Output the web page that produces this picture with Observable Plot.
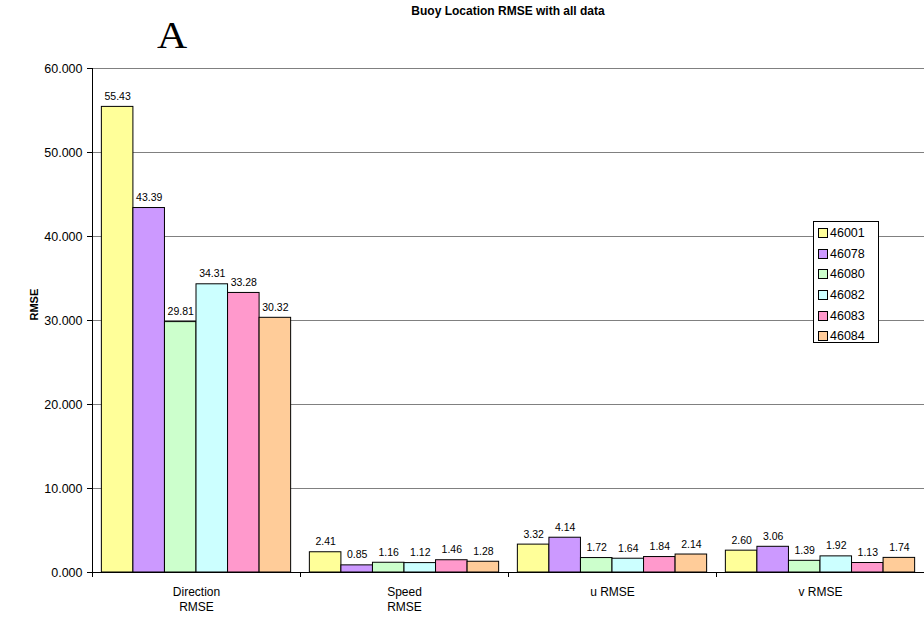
<!DOCTYPE html>
<html>
<head>
<meta charset="utf-8">
<script src="https://cdn.jsdelivr.net/npm/d3@7"></script>
<script src="https://cdn.jsdelivr.net/npm/@observablehq/plot@0.6"></script>
<style>
  body { margin: 0; background: #fff; font-family: Arial, "Liberation Sans", sans-serif; }
  #wrap { position: relative; width: 924px; height: 618px; }
  #title { position: absolute; left: 0; width: 1016px; top: 4px; text-align: center; font-weight: bold; font-size: 12px; }
  #letterA { position: absolute; left: 157px; top: 13px; font-family: "Liberation Serif", "DejaVu Serif", serif; font-size: 38px; line-height: 44px; transform: scaleX(1.1); transform-origin: left; }
  #legend { position: absolute; left: 813px; top: 221px; width: 66px; height: 122px; border: 1px solid #000; background: #fff; box-sizing: border-box; padding-top: 1px; }
  .li { height: 20.6px; display: flex; align-items: center; font-size: 12.5px; padding-left: 4px; }
  .sw { width: 8px; height: 8px; border: 1px solid #000; margin-right: 2px; }
</style>
</head>
<body>
<div id="wrap">
  <div id="chart"></div>
  <div id="title">Buoy Location RMSE with all data</div>
  <div id="letterA">A</div>
  <div id="legend"></div>
</div>
<script>
const categories = ["Direction RMSE", "Speed RMSE", "u RMSE", "v RMSE"];
const categoryLabels = ["Direction\nRMSE", "Speed\nRMSE", "u RMSE", "v RMSE"];
const buoys = ["46001", "46078", "46080", "46082", "46083", "46084"];
const colors = ["#FFFF99", "#CC99FF", "#CCFFCC", "#CCFFFF", "#FF99CC", "#FFCC99"];
const values46001 = [55.43, 2.41, 3.32, 2.60];
const values46078 = [43.39, 0.85, 4.14, 3.06];
const values46080 = [29.81, 1.16, 1.72, 1.39];
const values46082 = [34.31, 1.12, 1.64, 1.92];
const values46083 = [33.28, 1.46, 1.84, 1.13];
const values46084 = [30.32, 1.28, 2.14, 1.74];
const yTicks = [0, 10, 20, 30, 40, 50, 60];

const series = [values46001, values46078, values46080, values46082, values46083, values46084];
const pad = 0.045;
const w = (1 - 2 * pad) / buoys.length;
const rows = [];
categories.forEach((c, ci) => {
  buoys.forEach((b, bi) => {
    rows.push({cat: c, ci, buoy: b, bi, value: series[bi][ci]});
  });
});
const x1 = d => d.ci + pad + d.bi * w;
const x2 = d => d.ci + pad + (d.bi + 1) * w;
const xm = d => d.ci + pad + (d.bi + 0.5) * w;

const chart = Plot.plot({
  width: 924, height: 618,
  marginTop: 68, marginBottom: 46, marginLeft: 92, marginRight: 0,
  style: {fontFamily: "Arial, 'Liberation Sans', sans-serif", fontSize: "12px", color: "#000"},
  x: {domain: [0, categories.length], axis: null},
  y: {domain: [0, 60], axis: null},
  color: {domain: buoys, range: colors},
  marks: [
    Plot.ruleY(yTicks.filter(t => t > 0), {stroke: "#808080", strokeWidth: 1}),
    Plot.rect(rows, {x1, x2, y1: 0, y2: "value", fill: "buoy", stroke: "#000", strokeWidth: 1}),
    Plot.text(rows, {x: xm, y: "value", text: d => d.value.toFixed(2), lineAnchor: "bottom", dy: -7, fontSize: 10.5}),
    Plot.ruleX([0], {stroke: "#000"}),
    Plot.ruleY([0], {stroke: "#000"}),
    Plot.axisY({ticks: yTicks, tickFormat: d => d.toFixed(3), tickSize: 5, tickPadding: 5, label: null, fontSize: 12.5, stroke: "#000"}),
    Plot.axisX({ticks: d3.range(0, categories.length + 1), tickFormat: () => "", tickSize: 5, label: null, stroke: "#000"}),
    Plot.text(categoryLabels, {x: (d, i) => i + 0.5, y: 0, text: d => d, lineAnchor: "top", dy: 13, fontSize: 12, lineHeight: 1.25}),
    Plot.text(["RMSE"], {frameAnchor: "left", dx: -58, rotate: -90, fontWeight: "bold", fontSize: 11})
  ]
});
document.getElementById("chart").appendChild(chart);

const legend = document.getElementById("legend");
buoys.forEach((b, i) => {
  const row = document.createElement("div");
  row.className = "li";
  row.innerHTML = `<span class="sw" style="background:${colors[i]}"></span><span>${b}</span>`;
  legend.appendChild(row);
});
</script>
</body>
</html>
